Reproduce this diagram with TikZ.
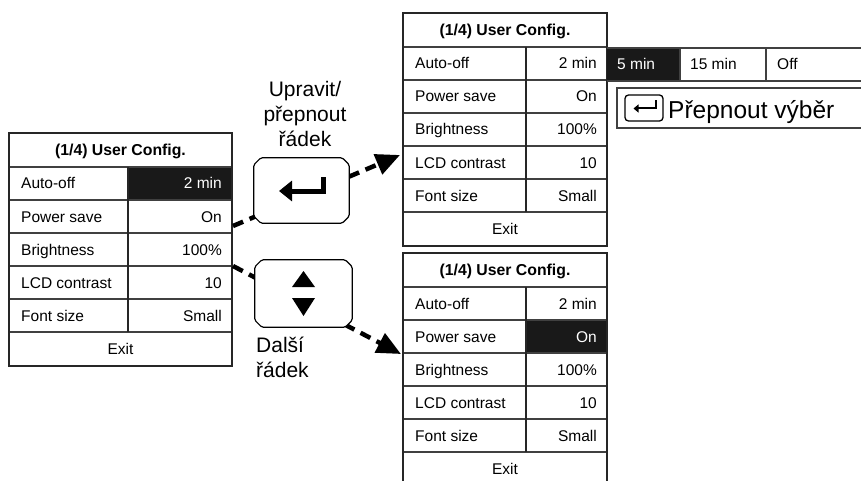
\documentclass[tikz,border=0pt]{standalone}
\usepackage{fontspec}
\setmainfont{Liberation Sans}
\usetikzlibrary{arrows.meta,calc}
\tikzset{
  cellL/.style={anchor=west, inner sep=0pt, font=\fontsize{15.5}{18}\selectfont, text height=11pt, text depth=0pt},
  cellR/.style={cellL, anchor=east},
  cellC/.style={cellL, anchor=center},
  titlecell/.style={cellC, font=\fontsize{15.8}{18}\selectfont\bfseries},
  outer/.style={line width=2pt, draw=black!85},
  inner/.style={line width=1.3pt, draw=black!75},
  colline/.style={line width=2pt, draw=black!85},
  hifill/.style={fill=black!90},
  btn/.style={rectangle, draw=none, inner sep=0pt},
  btnline/.style={draw, line width=1.2pt, fill=white, rounded corners=1.5pt},
  conn/.style={line width=4.5pt, dash pattern=on 11pt off 7pt},
  tipst/.style={-{Triangle[length=24pt,width=21pt]}},
  bigtext/.style={inner sep=0pt, font=\fontsize{21}{25}\selectfont},
  keybox/.style={draw, line width=1.3pt, rounded corners=3.5pt, minimum width=38pt, minimum height=26pt, inner sep=0pt},
}
\newcommand{\cfgtab}[6]{%
  \pgfmathsetmacro{\cH}{#5+34}%
  \pgfmathsetmacro{\cE}{#5+34+165}%
  \pgfmathsetmacro{\cB}{#5+34+165+34}%
  \pgfmathsetmacro{\cM}{(#2+#4)/2}%
  \ifnum#6>0 \fill[hifill] (#3,\cH+33*#6-33) rectangle (#4,\cH+33*#6);\fi
  \foreach \i/\a/\b in {1/Auto-off/2 min,2/Power save/On,3/Brightness/100\%,4/LCD contrast/10,5/Font size/Small}{%
    \ifnum\i=#6 \def\rc{white}\else\def\rc{black}\fi
    \node[cellL] (#1-l\i) at (#2+12,\cH+33*\i-16.5) {\a};
    \node[cellR,text=\rc] (#1-r\i) at (#4-10,\cH+33*\i-16.5) {\b};
    \ifnum\i<5 \draw[inner] (#2,\cH+33*\i) -- (#4,\cH+33*\i);\fi
  }
  \draw[inner] (#2,\cH) -- (#4,\cH);
  \draw[inner] (#2,\cE) -- (#4,\cE);
  \draw[colline] (#3,\cH) -- (#3,\cE);
  \node[titlecell] (#1-title) at (\cM,#5+17) {(1/4) User Config.};
  \node[cellC] (#1-exit) at (\cM,\cE+17) {Exit};
  \draw[outer] (#2,#5) rectangle (#4,\cB);
}
\newcommand{\chambtn}[1]{%
  \path[btnline] ($(#1.north west)+(7,0)$) -- ($(#1.north east)+(-7,0)$) -- ($(#1.north east)+(0,7)$)
    -- ($(#1.south east)+(0,-7)$) -- ($(#1.south east)+(-7,0)$) -- ($(#1.south west)+(7,0)$)
    -- ($(#1.south west)+(0,-7)$) -- ($(#1.north west)+(0,7)$) -- cycle;
}
\begin{document}
\begin{tikzpicture}[x=1pt,y=-1pt]
\clip (0,0) rectangle (861,481);
\fill[white] (0,0) rectangle (861,481);
% tables
\cfgtab{L}{9}{128}{232}{133}{1}
\cfgtab{T}{403}{526}{607}{13}{0}
\cfgtab{B}{403}{526}{607}{253}{2}
% option strip
\fill[hifill] (607,48) rectangle (680,81);
\draw[inner] (607,48) -- (870,48);
\draw[inner] (607,81) -- (870,81);
\draw[inner] (680,48) -- (680,81);
\draw[inner] (766,48) -- (766,81);
\node[cellL,text=white] (o1) at (617,64.5) {5 min};
\node[cellL] (o2) at (690,64.5) {15 min};
\node[cellL] (o3) at (777,64.5) {Off};
% hint box
\draw[inner] (617,88) rectangle (870,128);
\node[keybox] (key) at (644,108) {};
\draw[line width=2pt,-{Triangle[length=5pt,width=8pt]}] ($(key.center)+(11.5,-7.5)$) -- ++(0,8) -- ++(-22,0);
\node[anchor=base west, inner sep=0pt, font=\fontsize{24.5}{28}\selectfont] (sel) at (668,118.3) {Přepnout výběr};
% connectors
\coordinate (s1) at (233,226);
\coordinate (t1) at (400,155);
\coordinate (s2) at (233,266);
\coordinate (t2) at (401,354);
\draw[conn,tipst] (s1) -- (t1);
\draw[conn,tipst] (s2) -- (t2);
% buttons
\node[btn, minimum width=95pt, minimum height=65pt] (enter) at (301.5,190.5) {};
\node[btn, minimum width=97pt, minimum height=67pt] (updown) at (303.5,293.5) {};
\chambtn{enter}
\chambtn{updown}
\draw[line width=5pt,-{Triangle[length=13pt,width=20pt]}] ($(enter.center)+(21.5,-13)$) -- ++(0,13.5) -- ++(-44,0);
\fill ($(updown.center)+(0,-22.5)$) -- ++(-11.5,16) -- ++(23,0) -- cycle;
\fill ($(updown.center)+(0,22.5)$) -- ++(-11.5,-18) -- ++(23,0) -- cycle;
% labels
\node[bigtext, align=center, anchor=base] (lab1) at (305,147) {Upravit/\\přepnout\\řádek};
\node[bigtext, align=left, anchor=base west] (lab2) at (256,377) {Další\\řádek};
\end{tikzpicture}
\end{document}
